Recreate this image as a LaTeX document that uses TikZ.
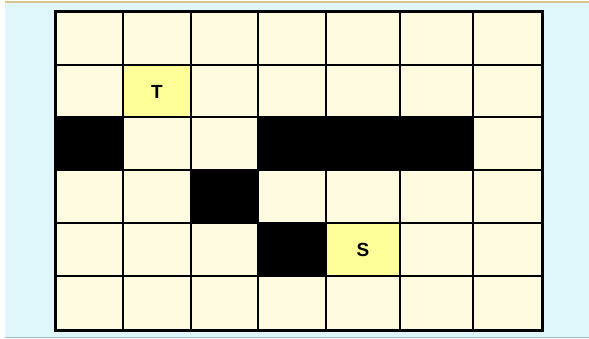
\documentclass[tikz,border=0pt]{standalone}
\usepackage{fontspec}
\setmainfont{Liberation Sans}
\usetikzlibrary{positioning}
\definecolor{gback}{HTML}{DFF7FA}
\definecolor{gcell}{HTML}{FEFBE0}
\definecolor{gmark}{HTML}{FFFF99}
\definecolor{gtop}{HTML}{D9C28E}
\definecolor{gbottom}{HTML}{A9B9C0}
\tikzset{
  wall/.style={fill=black},
  markcell/.style={fill=gmark},
  gridline/.style={draw=black, line width=2.2pt},
  letter/.style={font=\fontsize{19}{19}\selectfont\bfseries, text=black, inner sep=0pt},
}

\begin{document}
\begin{tikzpicture}[x=1pt, y=-1pt]
  % page and frame
  \useasboundingbox (0,0) rectangle (589,339);
  \fill[white] (0,0) rectangle (589,339);
  \fill[gback] (5,3) rectangle (589,337);
  \draw[gtop, line width=1.5pt] (5,2) -- (589,2);
  \draw[gbottom, line width=1.5pt] (5,337.5) -- (589,337.5);

  % board
  \fill[gcell] (55,12) rectangle (542,330);

  % blocked cells
  \fill[wall] (55,117) rectangle (123,170);
  \fill[wall] (258,117) rectangle (473,170);
  \fill[wall] (191,170) rectangle (258,223);
  \fill[wall] (258,223) rectangle (326,276);

  % target and start
  \fill[markcell] (123,65) rectangle (191,117);
  \fill[markcell] (326,223) rectangle (400,276);
  \node[letter] (target) at (157,91.5) {T};
  \node[letter] (start) at (363,249.5) {S};

  % grid lines
  \foreach \xa in {123,191,258,326,400,473}
    \draw[gridline] (\xa,12) -- (\xa,330);
  \foreach \ya in {65,117,170,223,276}
    \draw[gridline] (55,\ya) -- (542,\ya);
  \draw[gridline, line width=3pt] (55,12) rectangle (542,330);

\end{tikzpicture}
\end{document}
